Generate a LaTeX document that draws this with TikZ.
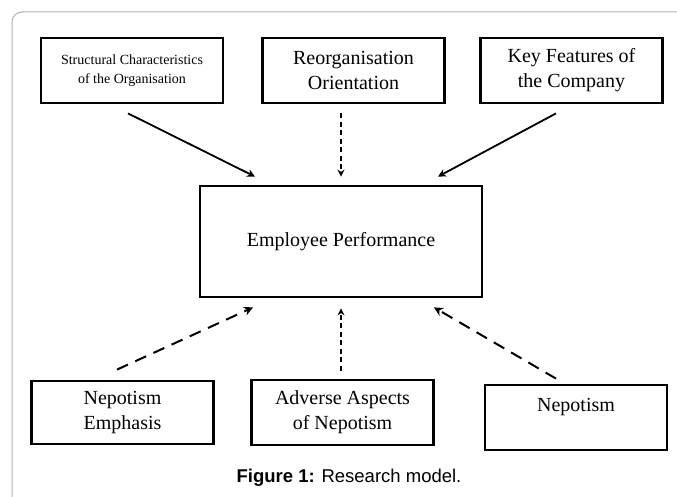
\documentclass[tikz,border=0pt]{standalone}
\usepackage{fontspec}
\setmainfont{Liberation Serif}
\setsansfont{Liberation Sans}
\usetikzlibrary{arrows.meta, positioning, calc}

\begin{document}
\begin{tikzpicture}[x=1pt, y=-1pt, every node/.style={draw, align=center, inner sep=2pt}]
  \tikzset{block/.style={line width=2.8pt, minimum width=182pt, minimum height=65pt, font=\fontsize{20}{25}\selectfont},
    solidarr/.style={line width=1.8pt, -{Stealth[length=8pt, width=8pt]}},
    vdash/.style={line width=1.4pt, dash pattern=on 5pt off 3.5pt, -{Stealth[length=7pt, width=7pt]}},
    ddash/.style={line width=2pt, dash pattern=on 12pt off 8pt, -{Stealth[length=9pt, width=9pt]}}}
  \useasboundingbox (0,0) rectangle (677,497);
  \fill[white] (0,0) rectangle (677,497);
  \draw[gray!60, line width=1pt, rounded corners=10pt] (12,12) rectangle (700,520);
  % top row
  \node[block, font=\fontsize{14}{19}\selectfont] (SC) at (132,70.5) {Structural Characteristics\\of the Organisation};
  \node[block] (RO) at (353.5,70.5) {Reorganisation\\Orientation};
  \node[block] (KF) at (571.5,70.5) {Key Features of\\the Company};
  % centre
  \node[block, minimum width=282pt, minimum height=111pt] (EP) at (341,241.5) {Employee Performance};
  % bottom row
  \node[block, minimum height=63pt] (NE) at (122.5,412.5) {Nepotism\\Emphasis};
  \node[block] (AA) at (342.5,412.5) {Adverse Aspects\\of Nepotism};
  \node[block] (NP) at (576,417.5) {Nepotism\\\phantom{N}};
  \node[draw=none, anchor=base, font=\sffamily\fontsize{18.5}{22}\selectfont] (cap) at (349,482) {\textbf{Figure 1:} Research model.};
  \draw[solidarr] ([xshift=-4pt, yshift=-9pt]SC.south) -- ([xshift=-86pt, yshift=8pt]EP.north);
  \draw[vdash] ([xshift=-12.5pt, yshift=-9pt]RO.south) -- ([yshift=8pt]EP.north);
  \draw[solidarr] ([xshift=-15.5pt, yshift=-9pt]KF.south) -- ([xshift=97pt, yshift=8pt]EP.north);
  \draw[ddash] ([xshift=-5.5pt, yshift=10pt]NE.north) -- ([xshift=-88pt, yshift=-9pt]EP.south);
  \draw[vdash] ([xshift=-1.5pt, yshift=8pt]AA.north) -- ([yshift=-10pt]EP.south);
  \draw[ddash] ([xshift=-20pt, yshift=5pt]NP.north) -- ([xshift=93pt, yshift=-9pt]EP.south);
\end{tikzpicture}
\end{document}
